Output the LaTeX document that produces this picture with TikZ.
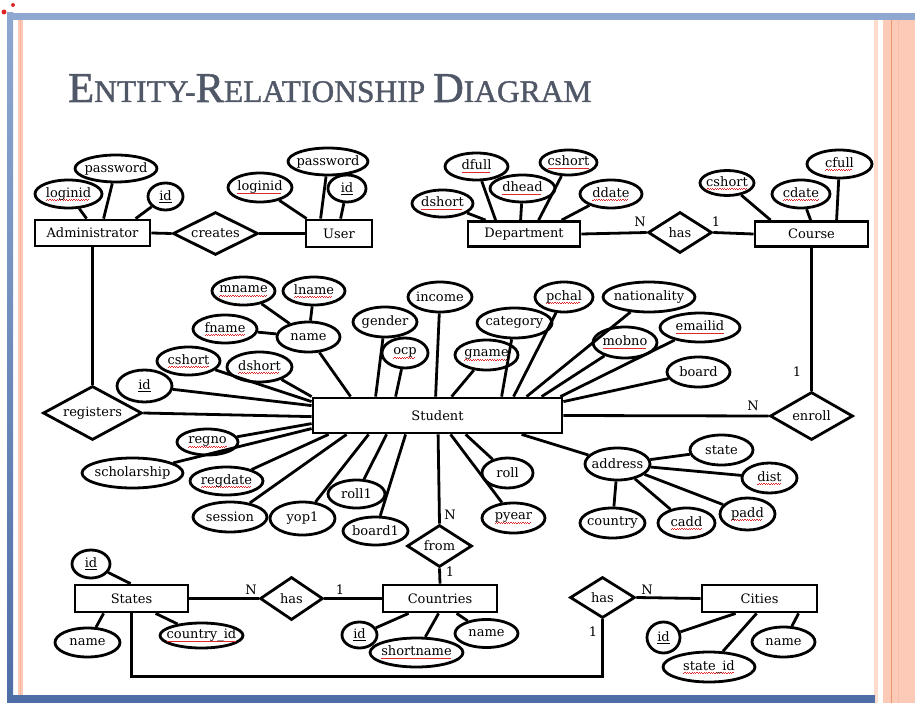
\documentclass[tikz,border=0pt]{standalone}
\usepackage{fontspec}
\newfontfamily\titlefont[FakeBold=1.2]{Liberation Serif}
\newfontfamily\diafont{DejaVu Serif}
\usetikzlibrary{shapes.geometric,calc}
\definecolor{framebluelight}{RGB}{143,168,210}
\definecolor{frameblue}{RGB}{78,110,166}
\definecolor{peach}{RGB}{252,202,182}
\definecolor{peachlight}{RGB}{253,220,205}
\definecolor{peachline}{RGB}{238,150,112}
\definecolor{titlegray}{RGB}{80,88,104}
\definecolor{spellred}{RGB}{222,40,40}
\newcommand\sq[1]{\leavevmode\setbox0\hbox{#1}\rlap{\lower2.8pt\hbox to\wd0{\color{spellred}\leaders\hbox{\rule[-0.7pt]{1.2pt}{0.7pt}\rule[0pt]{1.2pt}{0.7pt}}\hfill}}\box0}
\tikzset{
  every node/.style={font=\diafont\fontsize{13}{15}\selectfont},
  ent/.style={draw, line width=2.8pt, rectangle, inner sep=0pt},
  attr/.style={draw, line width=2.8pt, ellipse, inner xsep=-7pt, inner ysep=-3pt},
  rel/.style={draw, line width=2.8pt, diamond, inner sep=0pt, aspect=2},
  lnk/.style={line width=2.8pt},
  card/.style={inner sep=0pt},
}
\begin{document}
\begin{tikzpicture}[x=1pt,y=-1pt]
\useasboundingbox (0,0) rectangle (915,703);
% frame
\fill[white] (0,0) rectangle (915,703);
\fill[peachlight] (874,17) rectangle (878,703);
\fill[peach] (883,17) rectangle (915,703);
\draw[peachline, line width=1pt] (891,17) -- (891,703);
\draw[peachline!60, line width=0.8pt] (898,17) -- (898,703);
\shade[top color=framebluelight, bottom color=frameblue] (7,13) rectangle (13,703);
\fill[framebluelight] (7,13) rectangle (915,20);
\fill[frameblue] (7,695) rectangle (875,703);
\fill[peach] (18,20) rectangle (23,695);
\draw[peachline!70, line width=0.6pt] (20.5,20) -- (20.5,695);
\fill[spellred] (13,5) circle (2);
\fill[spellred] (4,12) circle (2.5);
% title
\node[anchor=base west, text=titlegray, inner sep=0pt] (title) at (68,102)
  {\titlefont\fontsize{42.5}{42}\selectfont E\fontsize{31.5}{31}\selectfont NTITY-\fontsize{42.5}{42}\selectfont R\fontsize{31.5}{31}\selectfont ELATIONSHIP \fontsize{42.5}{42}\selectfont D\fontsize{31.5}{31}\selectfont IAGRAM};
% entities
\node[ent, minimum width=115, minimum height=26] (adm) at (92.5,233) {Administrator};
\node[ent, minimum width=66, minimum height=27] (user) at (339,233.5) {User};
\node[ent, minimum width=112, minimum height=25] (dept) at (524,234) {Department};
\node[ent, minimum width=113, minimum height=25] (course) at (811.5,234) {Course};
\node[ent, minimum width=249, minimum height=35] (student) at (437.5,415.5) {Student};
\node[ent, minimum width=113, minimum height=27] (states) at (131.5,598.5) {States};
\node[ent, minimum width=114, minimum height=27] (countries) at (440,598.5) {Countries};
\node[ent, minimum width=115, minimum height=27] (cities) at (759.5,598.5) {Cities};
% relationships
\node[rel, minimum width=85, minimum height=43] (creates) at (215.5,233.5) {creates};
\node[rel, minimum width=64, minimum height=41] (hasDC) at (680,232.5) {has};
\node[rel, minimum width=99, minimum height=54] (registers) at (92.5,413) {registers};
\node[rel, minimum width=83, minimum height=48] (enroll) at (811.5,416) {enroll};
\node[rel, minimum width=65, minimum height=42] (from) at (439.5,546) {from};
\node[rel, minimum width=63, minimum height=43] (hasSC) at (291.5,598.5) {has};
\node[rel, minimum width=65, minimum height=41] (hasCi) at (602.5,597.5) {has};
% admin attributes
\node[attr, minimum width=82, minimum height=27] (a_pw) at (116,168.5) {password};
\node[attr, minimum width=67, minimum height=28] (a_login) at (68.5,194) {\sq{loginid}};
\node[attr, minimum width=35, minimum height=27] (a_id) at (165.5,196.5) {\underline{id}};
% user attributes
\node[attr, minimum width=64, minimum height=29] (u_login) at (260,187.5) {\sq{loginid}};
\node[attr, minimum width=80, minimum height=27] (u_pw) at (328,161.5) {password};
\node[attr, minimum width=38, minimum height=27] (u_id) at (347,188.5) {\underline{id}};
% department attributes
\node[attr, minimum width=63, minimum height=27] (d_full) at (476.5,166.5) {\sq{dfull}};
\node[attr, minimum width=57, minimum height=25] (d_cshort) at (568.5,162.5) {\sq{cshort}};
\node[attr, minimum width=65, minimum height=27] (d_head) at (522.5,188.5) {\sq{dhead}};
\node[attr, minimum width=61, minimum height=27] (d_short) at (442.5,203.5) {\sq{dshort}};
\node[attr, minimum width=62, minimum height=28] (d_date) at (611,194) {\sq{ddate}};
% course attributes
\node[attr, minimum width=54, minimum height=25] (c_short) at (727,183) {\sq{cshort}};
\node[attr, minimum width=58, minimum height=28] (c_date) at (801,194) {\sq{cdate}};
\node[attr, minimum width=65, minimum height=28] (c_full) at (839.5,164) {\sq{cfull}};
% student attributes
\node[attr, minimum width=63, minimum height=28] (s_mname) at (243.5,291) {\sq{mname}};
\node[attr, minimum width=62, minimum height=28] (s_lname) at (314,291) {\sq{lname}};
\node[attr, minimum width=64, minimum height=28] (s_fname) at (225,329) {\sq{fname}};
\node[attr, minimum width=63, minimum height=30] (s_name) at (308.5,337) {name};
\node[attr, minimum width=64, minimum height=30] (s_gender) at (385,322) {gender};
\node[attr, minimum width=46, minimum height=30] (s_ocp) at (405,353) {\sq{ocp}};
\node[attr, minimum width=64, minimum height=30] (s_income) at (440,297) {income};
\node[attr, minimum width=75, minimum height=30] (s_category) at (514.5,323) {category};
\node[attr, minimum width=63, minimum height=30] (s_gname) at (486.5,355) {\sq{gname}};
\node[attr, minimum width=58, minimum height=30] (s_pchal) at (564,297) {\sq{pchal}};
\node[attr, minimum width=92, minimum height=30] (s_nat) at (649,297) {nationality};
\node[attr, minimum width=64, minimum height=31] (s_mobno) at (625,342.5) {\sq{mobno}};
\node[attr, minimum width=80, minimum height=29] (s_email) at (700,327.5) {\sq{emailid}};
\node[attr, minimum width=63, minimum height=30] (s_board) at (698.5,372) {board};
\node[attr, minimum width=63, minimum height=28] (s_cshort) at (188.5,361) {\sq{cshort}};
\node[attr, minimum width=65, minimum height=30] (s_dshort) at (259.5,367) {\sq{dshort}};
\node[attr, minimum width=55, minimum height=32] (s_id) at (144.5,386) {\underline{id}};
\node[attr, minimum width=61, minimum height=26] (s_regno) at (207.5,442) {\sq{regno}};
\node[attr, minimum width=101, minimum height=30] (s_schol) at (132.5,473) {scholarship};
\node[attr, minimum width=73, minimum height=28] (s_regdate) at (226.5,481) {\sq{regdate}};
\node[attr, minimum width=74, minimum height=30] (s_session) at (230,517) {session};
\node[attr, minimum width=65, minimum height=33] (s_yop1) at (302.5,518.5) {yop1};
\node[attr, minimum width=57, minimum height=28] (s_roll1) at (356.5,494) {roll1};
\node[attr, minimum width=65, minimum height=28] (s_board1) at (375.5,531) {board1};
\node[attr, minimum width=51, minimum height=30] (s_roll) at (507.5,473) {roll};
\node[attr, minimum width=63, minimum height=30] (s_pyear) at (513.5,518) {\sq{pyear}};
\node[attr, minimum width=65, minimum height=32] (s_addr) at (617.5,464) {address};
\node[attr, minimum width=63, minimum height=30] (s_state) at (721.5,450) {state};
\node[attr, minimum width=55, minimum height=30] (s_dist) at (769.5,478) {\sq{dist}};
\node[attr, minimum width=55, minimum height=32] (s_padd) at (747.5,514) {\sq{padd}};
\node[attr, minimum width=57, minimum height=30] (s_cadd) at (686.5,523) {\sq{cadd}};
\node[attr, minimum width=65, minimum height=30] (s_country) at (612.5,523) {country};
% states attributes
\node[attr, minimum width=38, minimum height=28] (st_id) at (91,564) {\underline{id}};
\node[attr, minimum width=65, minimum height=29] (st_name) at (87.5,642.5) {name};
\node[attr, minimum width=83, minimum height=25] (st_cid) at (201.5,635.5) {\sq{country\_id}};
% countries attributes
\node[attr, minimum width=35, minimum height=26] (co_id) at (359.5,635) {\underline{id}};
\node[attr, minimum width=93, minimum height=29] (co_short) at (416.5,652.5) {\sq{shortname}};
\node[attr, minimum width=63, minimum height=28] (co_name) at (486.5,633.5) {name};
% cities attributes
\node[attr, minimum width=33, minimum height=31] (ci_id) at (663.5,637.5) {\underline{id}};
\node[attr, minimum width=92, minimum height=30] (ci_stid) at (709,667) {\sq{state\_id}};
\node[attr, minimum width=63, minimum height=30] (ci_name) at (783.5,642) {name};
% cardinalities
\node[card] (k1) at (640,222) {N};
\node[card] (k2) at (716,222) {1};
\node[card] (k3) at (797,372) {1};
\node[card] (k4) at (753,406) {N};
\node[card] (k5) at (450,515) {N};
\node[card] (k6) at (450,572) {1};
\node[card] (k7) at (251,590) {N};
\node[card] (k8) at (340,590) {1};
\node[card] (k9) at (647,590) {N};
\node[card] (k10) at (593,632) {1};
% connectors: admin / user
\draw[lnk] (a_login) -- ($(adm.north west)+(53,0)$);
\draw[lnk] (a_pw) -- ($(adm.north west)+(70,0)$);
\draw[lnk] (a_id) -- ($(adm.north west)+(102,0)$);
\draw[lnk] (adm.east) -- (creates.west);
\draw[lnk] (creates.east) -- (user.west);
\draw[lnk] (adm.south) -- (registers.north);
\draw[lnk] (u_login) -- ($(user.north west)+(2,0)$);
\draw[lnk] (u_pw) -- ($(user.north west)+(16,0)$);
\draw[lnk] (u_id) -- ($(user.north west)+(36,0)$);
% department / course
\draw[lnk] (d_short) -- ($(dept.north west)+(19,0)$);
\draw[lnk] (d_full) -- ($(dept.north west)+(29,0)$);
\draw[lnk] (d_head) -- ($(dept.north west)+(54,0)$);
\draw[lnk] (d_cshort) -- ($(dept.north west)+(72,0)$);
\draw[lnk] (d_date) -- ($(dept.north west)+(95,0)$);
\draw[lnk] (dept.east) -- (hasDC.west);
\draw[lnk] (hasDC.east) -- (course.west);
\draw[lnk] (c_short) -- ($(course.north west)+(17,0)$);
\draw[lnk] (c_date) -- ($(course.north west)+(57,0)$);
\draw[lnk] (c_full) -- ($(course.north west)+(83,0)$);
\draw[lnk] (course.south) -- (enroll.north);
% student
\draw[lnk] (s_mname) -- (s_name);
\draw[lnk] (s_lname) -- (s_name);
\draw[lnk] (s_fname) -- (s_name);
\draw[lnk] (s_name) -- ($(student.north west)+(39,0)$);
\draw[lnk] (s_gender) -- ($(student.north west)+(64,0)$);
\draw[lnk] (s_ocp) -- ($(student.north west)+(84,0)$);
\draw[lnk] (s_income) -- ($(student.north west)+(124,0)$);
\draw[lnk] (s_gname) -- ($(student.north west)+(140,0)$);
\draw[lnk] (s_category) -- ($(student.north west)+(190,0)$);
\draw[lnk] (s_pchal) -- ($(student.north west)+(202,0)$);
\draw[lnk] (s_nat) -- ($(student.north west)+(215,0)$);
\draw[lnk] (s_mobno) -- ($(student.north west)+(230,0)$);
\draw[lnk] (s_email) -- ($(student.north east)+(-3,0)$);
\draw[lnk] (s_board) -- ($(student.north east)+(0,5)$);
\draw[lnk] (student.east) -- (enroll.west);
\draw[lnk] (s_dshort) -- (student.north west);
\draw[lnk] (s_cshort) -- ($(student.north west)+(0,5)$);
\draw[lnk] (s_id) -- ($(student.north west)+(0,9)$);
\draw[lnk] (registers.east) -- ($(student.north west)+(0,20)$);
\draw[lnk] (s_regno) -- ($(student.north west)+(0,27)$);
\draw[lnk] (s_schol) -- ($(student.north west)+(0,32)$);
\draw[lnk] (s_regdate) -- ($(student.south west)+(17,0)$);
\draw[lnk] (s_session) -- ($(student.south west)+(35,0)$);
\draw[lnk] (s_yop1) -- ($(student.south west)+(57,0)$);
\draw[lnk] (s_roll1) -- ($(student.south west)+(75,0)$);
\draw[lnk] (s_board1) -- ($(student.south west)+(94,0)$);
\draw[lnk] (from.north) -- ($(student.south west)+(126.5,0)$);
\draw[lnk] (s_pyear) -- ($(student.south west)+(139,0)$);
\draw[lnk] (s_roll) -- ($(student.south west)+(154,0)$);
\draw[lnk] (s_addr) -- ($(student.south west)+(210,0)$);
\draw[lnk] (s_addr) -- (s_state);
\draw[lnk] (s_addr) -- (s_dist);
\draw[lnk] (s_addr) -- (s_padd);
\draw[lnk] (s_addr) -- (s_cadd);
\draw[lnk] (s_addr) -- (s_country);
\draw[lnk] (from.south) -- (countries.north);
% states / countries / cities
\draw[lnk] (st_id) -- ($(states.north west)+(57,0)$);
\draw[lnk] (st_name) -- ($(states.south west)+(30,0)$);
\draw[lnk] (st_cid) -- ($(states.south west)+(82,0)$);
\draw[lnk] (states.east) -- (hasSC.west);
\draw[lnk] (hasSC.east) -- (countries.west);
\draw[lnk] (co_id) -- ($(countries.south west)+(27,0)$);
\draw[lnk] (co_short) -- ($(countries.south west)+(57,0)$);
\draw[lnk] (co_name) -- ($(countries.south west)+(75,0)$);
\draw[lnk] (hasCi.east) -- (cities.west);
\draw[lnk] (ci_id) -- ($(cities.south west)+(35,0)$);
\draw[lnk] (ci_stid) -- ($(cities.south west)+(56,0)$);
\draw[lnk] (ci_name) -- ($(cities.south west)+(98,0)$);
\draw[lnk] (states.south) -- ($(states.south)+(0,63)$) -| (hasCi.south);
\end{tikzpicture}
\end{document}
